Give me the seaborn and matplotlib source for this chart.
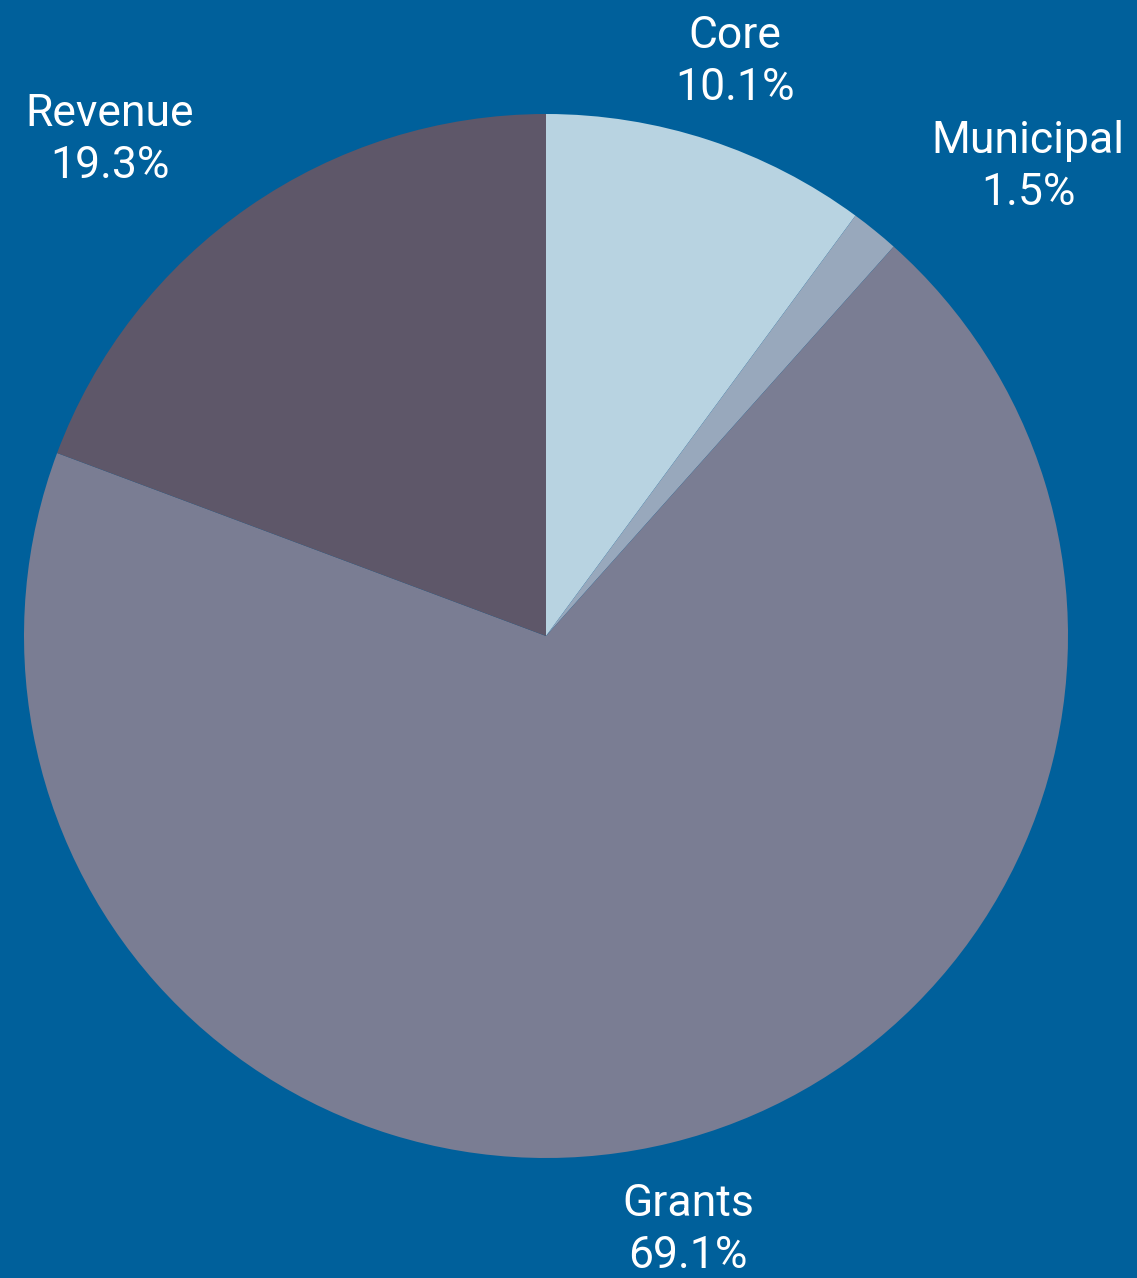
import matplotlib
matplotlib.use("Agg")
import matplotlib.pyplot as plt
import seaborn as sns

categories = ["Core", "Municipal", "Grants", "Revenue"]
shares = [10.1, 1.5, 69.1, 19.3]
colors = ["#B8D3E1", "#98A8BC", "#7A7D93", "#5E5769"]
label_pos = [(735, 62), (1028, 167), (688, 1230), (110, 140)]  # pixel positions (top-left origin)

BG = "#00609B"
W, H = 1137, 1278

sns.set_theme(style="white")
plt.rcParams["font.family"] = ["Roboto", "DejaVu Sans"]

fig = plt.figure(figsize=(W / 100, H / 100), dpi=100, facecolor=BG)
ax = fig.add_axes([0, 0, 1, 1])
ax.set_facecolor(BG)

ax.pie(shares, colors=colors, startangle=90, counterclock=False,
       center=(546, H - 636), radius=522,
       wedgeprops=dict(linewidth=0, edgecolor="none"))

for cat, val, (x, y) in zip(categories, shares, label_pos):
    ax.text(x, H - y, f"{cat}\n{val:.1f}%", ha="center", va="center",
            color="white", fontsize=32, fontweight="normal", linespacing=1.32)

ax.set_xlim(0, W)
ax.set_ylim(0, H)
ax.set_aspect("equal")
ax.axis("off")

fig.savefig("out.png", dpi=100, facecolor=BG)
